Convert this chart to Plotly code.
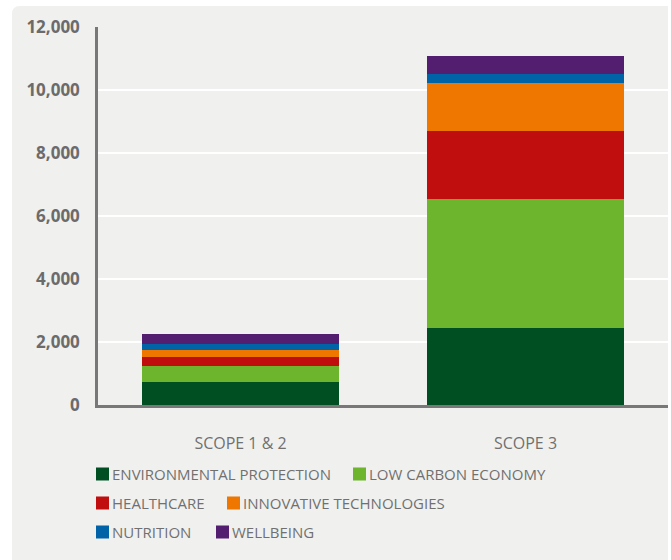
import plotly.graph_objects as go

# Emissions by theme (tCO2e), stacked per scope
scopes = ["SCOPE 1 & 2", "SCOPE 3"]
themes = [
    "ENVIRONMENTAL PROTECTION",
    "LOW CARBON ECONOMY",
    "HEALTHCARE",
    "INNOVATIVE TECHNOLOGIES",
    "NUTRITION",
    "WELLBEING",
]
environmental_protection = [740, 2450]
low_carbon_economy = [510, 4090]
healthcare = [285, 2170]
innovative_technologies = [215, 1510]
nutrition = [200, 300]
wellbeing = [310, 570]
y_ticks = [0, 2000, 4000, 6000, 8000, 10000, 12000]

series = [
    environmental_protection,
    low_carbon_economy,
    healthcare,
    innovative_technologies,
    nutrition,
    wellbeing,
]
colors = ["#004f23", "#6db52d", "#c00d0d", "#ef7700", "#0063a8", "#531e6f"]

W, H = 671, 560
L, R, T, B = 98, 3, 27, 155
PW, PH = W - L - R, H - T - B
FONT = "Open Sans, Roboto, DejaVu Sans, sans-serif"
GREY = "#707070"


def px_x(px):
    return (px - L) / PW


def px_y(py):
    return (H - B - py) / PH


fig = go.Figure()
for name, vals, col in zip(themes, series, colors):
    fig.add_trace(go.Bar(
        x=scopes, y=vals, name=name,
        marker=dict(color=col, line=dict(width=0)),
        hoverinfo="skip", showlegend=False,
    ))

# light panel with a rounded top-left corner
x0, x1 = px_x(12), px_x(668)
y0, y1 = px_y(565), px_y(6)
rx, ry = 8 / PW, 8 / PH
panel = (f"M{x0},{y0} L{x0},{y1 - ry} Q{x0},{y1} {x0 + rx},{y1} "
         f"L{x1},{y1} L{x1},{y0} Z")
shapes = [dict(type="path", xref="paper", yref="paper", path=panel,
               fillcolor="#f0f0ef", line=dict(width=0), layer="below")]

# legend: three rows, two entries each
legend_slots = [(0, 96), (0, 353), (1, 96), (1, 227), (2, 96), (2, 216)]
row_y = [474, 503, 532]
annotations = []
for (row, sx), name, col in zip(legend_slots, themes, colors):
    cy = row_y[row]
    shapes.append(dict(type="rect", xref="paper", yref="paper",
                       x0=px_x(sx), x1=px_x(sx + 13),
                       y0=px_y(cy + 6.5), y1=px_y(cy - 6.5),
                       fillcolor=col, line=dict(width=0)))
    annotations.append(dict(xref="paper", yref="paper",
                            x=px_x(sx + 15), y=px_y(cy),
                            xanchor="left", yanchor="middle",
                            text=name, showarrow=False, borderpad=0,
                            font=dict(family=FONT, size=15, color=GREY)))

fig.update_layout(
    width=W, height=H,
    margin=dict(l=L, r=R, t=T, b=B, pad=0),
    paper_bgcolor="white",
    plot_bgcolor="rgba(0,0,0,0)",
    barmode="stack",
    bargap=0.31,
    showlegend=False,
    shapes=shapes,
    annotations=annotations,
    xaxis=dict(
        showgrid=False, showline=True, linecolor="#787878", linewidth=2.5,
        ticks="", ticklabelstandoff=22,
        tickfont=dict(family=FONT, size=16, color=GREY),
        fixedrange=True,
    ),
    yaxis=dict(
        range=[0, 12000], tickvals=y_ticks, tickformat=",",
        showgrid=True, gridcolor="white", gridwidth=2,
        zeroline=False, showline=True, linecolor="#787878", linewidth=2.5,
        ticks="", ticklabelstandoff=12,
        tickfont=dict(family=FONT, size=17, color="#6b6b6b", weight="bold"),
        fixedrange=True,
    ),
)

fig.write_html("out.html")
